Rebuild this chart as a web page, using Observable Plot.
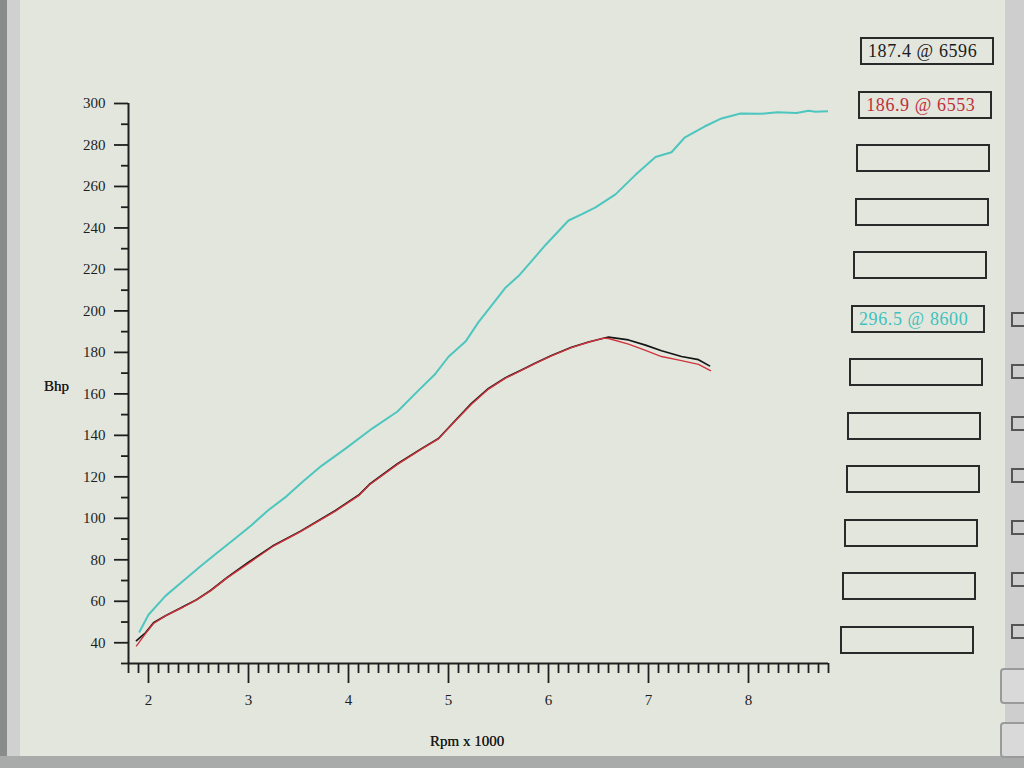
<!DOCTYPE html>
<html>
<head>
<meta charset="utf-8">
<script src="https://cdn.jsdelivr.net/npm/d3@7"></script>
<script src="https://cdn.jsdelivr.net/npm/@observablehq/plot@0.6"></script>
<style>
  html, body { margin: 0; padding: 0; width: 1024px; height: 768px; overflow: hidden; background: #b9bbba; }
  #bezelL { position: absolute; left: 0; top: 0; width: 20px; height: 768px; background: linear-gradient(90deg, #8a8c8c 0 7px, #cfd0cf 7px 20px); }
  #bezelB { position: absolute; left: 0; top: 756px; width: 1024px; height: 12px; background: #a9abab; }
  #bezelR { position: absolute; left: 1005px; top: 0; width: 19px; height: 768px; background: #cdcecd; }
  #screen { position: absolute; left: 20px; top: 0; width: 985px; height: 756px; background: #e3e6dd; }
  #chart { position: absolute; left: 0; top: 0; }
  .lab { position: absolute; font-family: "Liberation Serif", "DejaVu Serif", serif; font-size: 15px; color: #1b1b1b; text-shadow: 0 0 0.4px #1b1b1b; }
  .box { position: absolute; width: 134px; height: 28px; border: 2px solid #2a2a2a; box-sizing: border-box;
         font-family: "Liberation Serif", "DejaVu Serif", serif; font-size: 18px; line-height: 24px; padding-left: 6px; white-space: nowrap; letter-spacing: 0.6px; }
  .side { position: absolute; left: 1011px; width: 13px; height: 15px; border: 2px solid #555; border-right: none; box-sizing: border-box; }
  .btn { position: absolute; left: 1000px; width: 30px; height: 36px; border: 2px solid #9a9a9a; border-radius: 4px; box-sizing: border-box; background: #d8d9d8; }
</style>
</head>
<body>
<div id="bezelL"></div>
<div id="screen"></div>
<div id="bezelR"></div>
<div id="bezelB"></div>
<div id="chart"></div>
<div class="lab" style="left:44px; top:378px;">Bhp</div>
<div class="lab" style="left:430px; top:733px;">Rpm x 1000</div>
<div id="legend"></div>
<script>
// ---- axes ----
const xDomain = [1.8, 8.8];
const yDomain = [30, 300];
const yMajor = [40, 60, 80, 100, 120, 140, 160, 180, 200, 220, 240, 260, 280, 300];
const yMinor = [30, 50, 70, 90, 110, 130, 150, 170, 190, 210, 230, 250, 270, 290];
const xMajor = [2, 3, 4, 5, 6, 7, 8];
const xMinor = d3.range(18, 89).filter(i => i % 10 !== 0).map(i => i / 10);

// ---- series: cyan run ----
const cyanRpm = [1.91, 2.0, 2.17, 2.34, 2.52, 2.69, 2.86, 3.03, 3.2, 3.38, 3.55, 3.73, 3.97, 4.24, 4.49, 4.69, 4.86, 5.0, 5.17, 5.3, 5.43, 5.57, 5.7, 5.8, 5.97, 6.2, 6.33, 6.47, 6.67, 6.87, 7.07, 7.23, 7.36, 7.56, 7.73, 7.92, 8.12, 8.29, 8.48, 8.6, 8.67, 8.8];
const cyanBhp = [45.3, 53.5, 62.6, 69.5, 76.9, 83.5, 90.0, 96.7, 104.0, 110.6, 118.0, 125.3, 133.6, 143.4, 151.5, 161.2, 169.2, 177.9, 185.2, 194.6, 202.6, 211.2, 216.8, 222.3, 231.8, 243.6, 246.5, 249.9, 256.2, 265.6, 274.2, 276.5, 283.5, 288.9, 292.8, 295.2, 295.0, 295.8, 295.4, 296.5, 296.0, 296.3];

// ---- series: black run ----
const blackRpm = [1.88, 1.97, 2.05, 2.17, 2.34, 2.48, 2.62, 2.79, 3.0, 3.24, 3.52, 3.87, 4.11, 4.21, 4.49, 4.73, 4.9, 5.07, 5.23, 5.4, 5.57, 5.73, 5.87, 6.03, 6.23, 6.4, 6.55, 6.6, 6.8, 6.97, 7.13, 7.33, 7.5, 7.61];
const blackBhp = [41.0, 44.8, 49.6, 53.0, 57.3, 60.7, 65.2, 71.6, 78.8, 86.6, 93.8, 103.8, 111.5, 116.4, 126.3, 133.6, 138.5, 147.3, 155.4, 162.6, 167.8, 171.5, 174.9, 178.5, 182.5, 185.0, 186.8, 187.4, 186.0, 183.5, 180.8, 178.0, 176.5, 173.5];

// ---- series: red run ----
const redRpm = [1.88, 1.97, 2.05, 2.17, 2.34, 2.48, 2.62, 2.79, 3.0, 3.24, 3.52, 3.87, 4.11, 4.21, 4.49, 4.73, 4.9, 5.07, 5.23, 5.4, 5.57, 5.73, 5.87, 6.03, 6.23, 6.4, 6.55, 6.6, 6.8, 6.97, 7.13, 7.33, 7.5, 7.62];
const redBhp = [38.5, 44.4, 49.3, 53.0, 57.0, 60.7, 65.0, 71.4, 78.3, 86.3, 93.6, 103.5, 111.2, 116.2, 126.0, 133.4, 138.3, 147.0, 155.0, 162.3, 167.6, 171.3, 174.7, 178.3, 182.3, 184.9, 186.9, 186.7, 184.0, 181.0, 178.0, 176.0, 174.2, 171.2];

// ---- legend boxes ----
const legendTexts = ["187.4 @ 6596", "186.9 @ 6553", "", "", "", "296.5 @ 8600", "", "", "", "", "", ""];
const legendColors = ["#1c1c1c", "#c0303a", "#1c1c1c", "#1c1c1c", "#1c1c1c", "#3fc2bb", "#1c1c1c", "#1c1c1c", "#1c1c1c", "#1c1c1c", "#1c1c1c", "#1c1c1c"];

const ink = "#1e1e1e";
const chart = Plot.plot({
  width: 840,
  height: 768,
  marginLeft: 128,
  marginTop: 103,
  marginRight: 12,
  marginBottom: 105,
  x: {domain: xDomain},
  y: {domain: yDomain},
  style: {background: "transparent", fontFamily: "'Liberation Serif', 'DejaVu Serif', serif", fontSize: "15px", color: ink},
  marks: [
    Plot.axisY(yMajor, {tickSize: 14, tickPadding: 9, strokeWidth: 1.8, label: null, stroke: ink}),
    Plot.axisY(yMinor, {tickSize: 7, tickFormat: () => "", strokeWidth: 1.8, label: null, stroke: ink}),
    Plot.axisX(xMajor, {tickSize: 20, tickPadding: 11, strokeWidth: 1.8, label: null, stroke: ink}),
    Plot.axisX(xMinor, {tickSize: 10, tickFormat: () => "", strokeWidth: 1.8, label: null, stroke: ink}),
    Plot.ruleX([xDomain[0]], {stroke: ink, strokeWidth: 2}),
    Plot.ruleY([yDomain[0]], {stroke: ink, strokeWidth: 2}),
    Plot.line(cyanBhp, {x: cyanRpm, y: cyanBhp, stroke: "#4cc6be", strokeWidth: 2, clip: true}),
    Plot.line(blackBhp, {x: blackRpm, y: blackBhp, stroke: "#151515", strokeWidth: 1.7}),
    Plot.line(redBhp, {x: redRpm, y: redBhp, stroke: "#d0343c", strokeWidth: 1.4})
  ]
});
document.getElementById("chart").appendChild(chart);

const legend = document.getElementById("legend");
legendTexts.forEach((t, i) => {
  const d = document.createElement("div");
  d.className = "box";
  d.style.left = (860 - i * 1.8) + "px";
  d.style.top = (37 + i * 53.5) + "px";
  d.style.color = legendColors[i];
  d.textContent = t;
  legend.appendChild(d);
});
for (let i = 0; i < 7; i++) {
  const s = document.createElement("div");
  s.className = "side";
  s.style.top = (312 + i * 52) + "px";
  legend.appendChild(s);
}
[668, 722].forEach(top => {
  const b = document.createElement("div");
  b.className = "btn";
  b.style.top = top + "px";
  legend.appendChild(b);
});
</script>
</body>
</html>
